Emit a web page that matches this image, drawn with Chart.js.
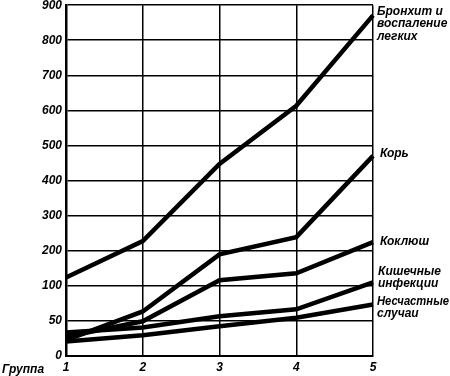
<!DOCTYPE html>
<html>
<head>
<meta charset="utf-8">
<script src="https://cdn.jsdelivr.net/npm/chart.js@4"></script>
<style>
  html, body { margin: 0; padding: 0; background: #fff; overflow: hidden; }
  #wrap { width: 450px; height: 376px; position: relative; overflow: hidden; }
  #inner { position: absolute; left: 0; top: -6px; width: 450px; height: 386px; }
</style>
</head>
<body>
<div id="wrap"><div id="inner"><canvas id="chart_morbidity"></canvas></div></div>
<script>
// groups along the x axis
var groups = ['1', '2', '3', '4', '5'];
// y tick labels (axis is evenly spaced per label, not linear)
var yTickLabels = ['0', '50', '100', '200', '300', '400', '500', '600', '700', '800', '900'];

var bronchitis = [123, 227, 447, 613, 871];
var measles = [22, 63, 189, 238, 470];
var pertussis = [27, 49, 115, 135, 224];
var intestinal = [33, 40, 56, 66, 109];
var accidents = [20, 29, 42, 54, 73];

var seriesNames = [
    ['Бронхит и', 'воспаление', 'легких'],
    ['Корь'],
    ['Коклюш'],
    ['Кишечные', 'инфекции'],
    ['Несчастные', 'случаи']
];

// value -> position on the piecewise axis (0..100 in two steps, then 100 per step)
function toAxis(v) {
    return v <= 100 ? v / 50 : 2 + (v - 100) / 100;
}

function makeSet(values, name) {
    return {
        label: name.join(' '),
        data: values.map(toAxis),
        borderColor: '#000',
        borderWidth: 4.5,
        pointRadius: 0,
        tension: 0,
        fill: false,
        names: name
    };
}

var labelFont = 'italic bold 12px "Liberation Sans", Arial, sans-serif';
var labelOffsets = [[0, -4], [3, -2], [3, 0], [1, -11], [0, -3]];

var chart_morbidity = new Chart(document.getElementById('chart_morbidity'), {
    type: 'line',
    data: {
        labels: groups,
        datasets: [
            makeSet(bronchitis, seriesNames[0]),
            makeSet(measles, seriesNames[1]),
            makeSet(pertussis, seriesNames[2]),
            makeSet(intestinal, seriesNames[3]),
            makeSet(accidents, seriesNames[4])
        ]
    },
    options: {
        animation: false,
        responsive: true,
        maintainAspectRatio: false,
        layout: {
            padding: { top: 0, right: 77, bottom: 0, left: 0 }
        },
        plugins: {
            legend: { display: false },
            tooltip: { enabled: false }
        },
        scales: {
            x: {
                type: 'category',
                offset: false,
                grid: { color: '#000', lineWidth: 1.5, drawTicks: false },
                border: { color: '#000', width: 2 },
                ticks: {
                    color: '#000',
                    padding: 5,
                    maxRotation: 0,
                    font: { family: '"Liberation Sans", Arial, sans-serif', size: 12, weight: 'bold', style: 'italic' }
                }
            },
            y: {
                type: 'linear',
                min: 0,
                max: 10,
                grid: { color: '#000', lineWidth: 1.5, drawTicks: false },
                border: { color: '#000', width: 2.5 },
                afterFit: function(scale) { scale.width = 66; },
                ticks: {
                    stepSize: 1,
                    color: '#000',
                    padding: 4,
                    font: { family: '"Liberation Sans", Arial, sans-serif', size: 12, weight: 'bold', style: 'italic' },
                    callback: function(value) { return yTickLabels[value]; }
                }
            }
        }
    },
    plugins: [{
        id: 'whiteBg',
        beforeDraw: (chart) => {
            const ctx = chart.canvas.getContext('2d');
            ctx.save();
            ctx.globalCompositeOperation = 'destination-over';
            ctx.fillStyle = 'white';
            ctx.fillRect(0, 0, chart.canvas.width, chart.canvas.height);
            ctx.restore();
        }
    }, {
        id: 'lineNames',
        afterDraw: (chart) => {
            const ctx = chart.ctx;
            const x = chart.scales.x, y = chart.scales.y;
            ctx.save();
            ctx.fillStyle = '#000';
            ctx.font = labelFont;
            ctx.textBaseline = 'middle';
            chart.data.datasets.forEach((ds, i) => {
                const last = ds.data.length - 1;
                const px = x.getPixelForValue(last) + labelOffsets[i][0] + 4;
                const py = y.getPixelForValue(ds.data[last]) + labelOffsets[i][1];
                ds.names.forEach((line, j) => {
                    // keep the longest names inside the canvas
                    ctx.fillText(line, px, py + j * 12.5, chart.width - px - 1);
                });
            });
            // axis caption for groups
            ctx.textBaseline = 'alphabetic';
            ctx.fillText('Группа', 2, chart.chartArea.bottom + 17);
            ctx.restore();
        }
    }]
});
</script>
</body>
</html>
